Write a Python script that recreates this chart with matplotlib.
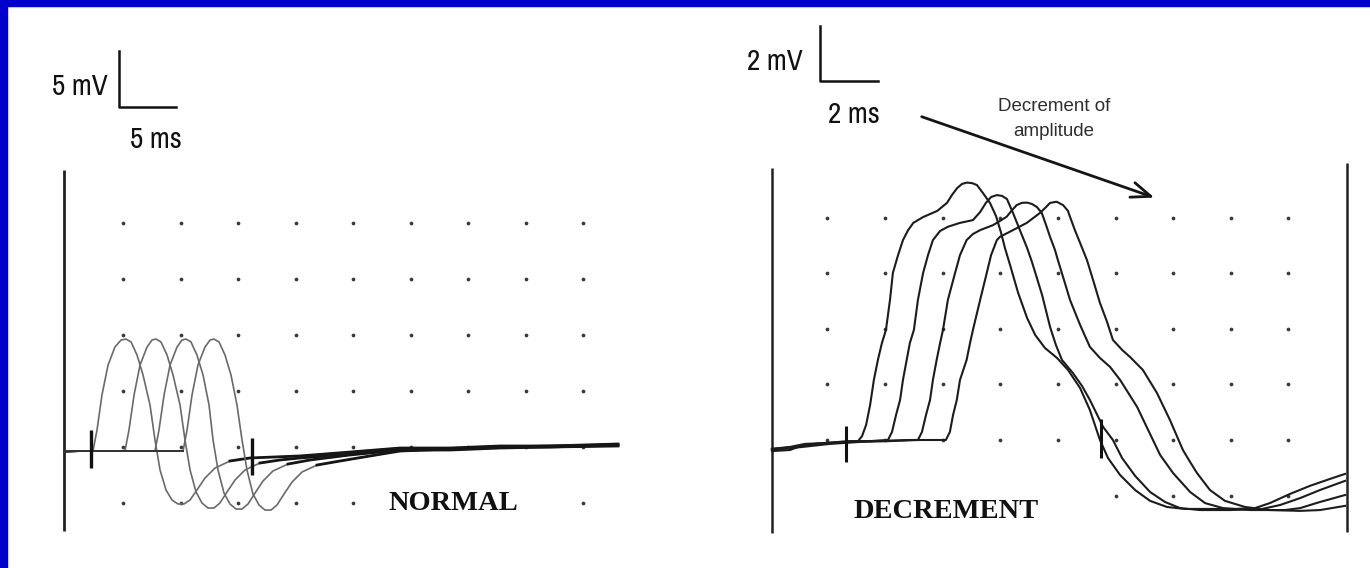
import matplotlib
matplotlib.use("Agg")
import matplotlib.pyplot as plt
from matplotlib.patches import Rectangle
from matplotlib import font_manager as fm

# ---------------- data: NORMAL panel (time in ms, amplitude in mV) ----------------
normal_t1 = [-0.13, 1.26, 2.39, 2.74, 3.17, 3.70, 4.30, 4.83, 5.26, 5.70, 6.22, 6.74, 7.35, 7.78, 8.22, 8.74,
             9.26, 9.78, 10.30, 10.83, 11.43, 12.13, 13.0, 14.30, 16.04, 20.39, 24.74, 29.09, 33.43, 37.78, 42.13, 48.04]
normal_v1 = [-0.45, -0.36, -0.36, 1.52, 4.64, 7.32, 8.93, 9.55, 9.64, 9.38, 8.21, 6.43, 3.75, 0.63, -2.05, -3.84,
             -4.73, -5.09, -5.09, -4.73, -3.84, -2.77, -1.88, -1.25, -0.98, -0.80, -0.45, -0.09, -0.09, 0.09, 0.09, 0.27]
normal_t2 = [-0.13, 3.00, 5.17, 5.52, 5.96, 6.48, 7.09, 7.52, 7.87, 8.30, 8.83, 9.35, 9.96, 10.39, 10.83, 11.35,
             11.87, 12.39, 12.91, 13.43, 14.04, 14.74, 15.61, 16.91, 18.65, 20.39, 24.74, 29.09, 33.43, 37.78, 42.13, 48.04]
normal_v2 = [-0.36, -0.36, -0.36, 1.52, 4.64, 7.32, 8.93, 9.55, 9.64, 9.38, 8.21, 6.43, 3.75, 0.63, -2.05, -4.02,
             -5.0, -5.45, -5.45, -5.0, -4.02, -2.95, -2.05, -1.43, -1.16, -0.98, -0.63, -0.18, -0.18, 0.0, 0.0, 0.09]
normal_t3 = [-0.13, 4.74, 7.78, 8.13, 8.57, 9.09, 9.70, 10.13, 10.48, 10.91, 11.43, 11.96, 12.48, 12.83, 13.26, 13.78,
             14.30, 14.83, 15.35, 15.87, 16.48, 17.17, 18.04, 19.35, 21.26, 24.74, 29.09, 33.43, 37.78, 42.13, 48.04]
normal_v3 = [-0.36, -0.36, -0.36, 1.52, 4.64, 7.32, 8.93, 9.55, 9.64, 9.38, 8.21, 6.43, 3.75, 0.63, -2.05, -4.11,
             -5.09, -5.54, -5.54, -5.09, -4.11, -3.04, -2.14, -1.52, -1.16, -0.71, -0.27, -0.27, -0.09, 0.0, 0.18]
normal_t4 = [-0.13, 7.35, 10.22, 10.57, 11.0, 11.52, 12.13, 12.57, 12.91, 13.35, 13.87, 14.39, 14.91, 15.35, 15.78, 16.30,
             16.83, 17.35, 17.87, 18.39, 19.0, 19.70, 20.57, 21.87, 23.87, 26.48, 29.09, 33.43, 37.78, 42.13, 48.04]
normal_v4 = [-0.36, -0.36, -0.36, 1.52, 4.64, 7.32, 8.93, 9.55, 9.64, 9.38, 8.21, 6.43, 3.75, 0.63, -2.05, -4.20,
             -5.18, -5.63, -5.63, -5.18, -4.20, -3.13, -2.23, -1.61, -1.25, -0.80, -0.36, -0.18, 0.0, 0.09, 0.18]
normal_tail_start = [14.30, 16.91, 19.35, 21.87]   # where each trace has settled back onto the baseline

normal_grid_t = [5, 10, 15, 20, 25, 30, 35, 40, 45]
normal_grid_v = [0, 5, 10, 15, 20]
normal_bottom_row_v = -5
normal_bottom_row_t = [5, 10, 15, 20, 25, 45]
normal_cursors_t = [2.2, 16.2]
normal_cursors_v = [(-1.9, 1.5), (-2.5, 0.8)]
normal_frame_t = -0.13
normal_frame_v = (-7.5, 24.7)
normal_scale_ms = 5
normal_scale_mV = 5

# ---------------- data: DECREMENT panel (time in ms, amplitude in mV) ----------------
decr_t1 = [0.07, 0.70, 1.05, 1.57, 2.26, 2.78, 3.06, 3.20, 3.34, 3.48, 3.61, 3.75, 3.89, 4.03, 4.17, 4.27, 4.45,
           4.62, 4.80, 4.98, 5.32, 5.81, 6.15, 6.32, 6.50, 6.67, 6.84, 7.02, 7.19, 7.40, 7.64, 7.85, 8.02, 8.16,
           8.34, 8.62, 8.93, 9.21, 9.55, 9.97, 10.35, 10.77, 11.11, 11.46, 11.74, 12.16, 12.68, 13.20, 13.79,
           14.41, 15.28, 16.15, 16.84, 17.36, 18.06, 18.75, 19.45, 19.97]
decr_v1 = [-0.40, -0.36, -0.22, -0.14, -0.11, -0.07, -0.04, 0.14, 0.54, 1.26, 2.16, 2.88, 3.49, 3.96, 5.04, 6.01,
           6.65, 7.19, 7.55, 7.81, 8.02, 8.24, 8.53, 8.81, 9.06, 9.21, 9.26, 9.24, 9.17, 8.88, 8.53, 8.06, 7.48,
           6.91, 6.29, 5.29, 4.39, 3.78, 3.31, 2.95, 2.52, 1.87, 1.08, 0.0, -0.65, -1.26, -1.80, -2.19, -2.41,
           -2.48, -2.48, -2.48, -2.45, -2.27, -1.94, -1.65, -1.40, -1.22]
decr_t2 = [0.07, 0.70, 1.22, 1.91, 2.78, 3.48, 4.10, 4.24, 4.38, 4.52, 4.62, 4.75, 4.86, 5.00, 5.14, 5.32, 5.49,
           5.66, 5.91, 6.18, 6.60, 7.05, 7.30, 7.50, 7.68, 7.88, 8.06, 8.23, 8.44, 8.68, 8.93, 9.10, 9.27, 9.45,
           9.73, 9.93, 10.14, 10.52, 10.84, 11.11, 11.57, 11.91, 12.23, 12.68, 13.20, 13.72, 14.24, 14.94, 15.98,
           17.09, 17.71, 18.41, 19.10, 19.97]
decr_v2 = [-0.32, -0.25, -0.14, -0.11, -0.04, -0.04, 0.0, 0.29, 0.90, 1.44, 2.16, 2.88, 3.49, 3.96, 5.04, 6.01,
           6.65, 7.19, 7.52, 7.67, 7.81, 7.91, 8.20, 8.53, 8.74, 8.81, 8.78, 8.67, 8.17, 7.55, 6.91, 6.40, 5.83,
           5.22, 4.06, 3.42, 2.88, 2.41, 1.94, 1.44, 0.47, 0.0, -0.65, -1.29, -1.87, -2.23, -2.45, -2.52, -2.52,
           -2.48, -2.34, -2.09, -1.80, -1.47]
decr_t3 = [0.07, 0.77, 1.39, 2.09, 3.13, 4.17, 5.14, 5.28, 5.42, 5.56, 5.66, 5.79, 5.91, 6.01, 6.18, 6.43, 6.60,
           6.83, 7.05, 7.30, 7.75, 7.99, 8.22, 8.41, 8.57, 8.75, 8.93, 9.10, 9.27, 9.44, 9.59, 9.73, 9.90, 10.00,
           10.21, 10.42, 10.77, 11.11, 11.46, 11.81, 12.16, 12.75, 13.30, 13.55, 14.00, 14.59, 15.11, 15.73,
           16.67, 17.88, 18.41, 19.10, 19.97]
decr_v3 = [-0.36, -0.29, -0.22, -0.14, -0.07, -0.04, 0.0, 0.29, 0.90, 1.44, 2.16, 2.88, 3.49, 3.96, 5.04, 6.01,
           6.65, 7.19, 7.41, 7.55, 7.73, 7.88, 8.03, 8.27, 8.45, 8.53, 8.54, 8.49, 8.38, 8.17, 7.73, 7.30, 6.83,
           6.47, 5.76, 5.04, 4.14, 3.35, 2.95, 2.63, 2.16, 1.19, 0.0, -0.54, -1.19, -1.87, -2.27, -2.45, -2.52,
           -2.52, -2.45, -2.23, -1.98]
decr_t4 = [0.07, 0.87, 1.57, 2.43, 3.48, 4.86, 6.11, 6.25, 6.36, 6.49, 6.60, 6.83, 6.95, 7.05, 7.30, 7.53, 7.68,
           7.88, 7.99, 8.44, 8.92, 9.38, 9.59, 9.73, 9.96, 10.18, 10.35, 10.42, 10.59, 10.77, 11.01, 11.22, 11.46,
           11.71, 11.91, 12.23, 12.50, 12.95, 13.44, 13.89, 14.34, 14.59, 14.83, 15.28, 15.80, 16.50, 17.36,
           18.41, 19.10, 19.97]
decr_v4 = [-0.32, -0.25, -0.14, -0.07, -0.04, 0.0, 0.0, 0.29, 0.90, 1.44, 2.16, 2.88, 3.49, 3.96, 5.04, 6.01,
           6.65, 7.19, 7.31, 7.55, 7.81, 8.17, 8.38, 8.53, 8.57, 8.45, 8.24, 8.03, 7.55, 7.09, 6.47, 5.76, 4.93,
           4.24, 3.60, 3.24, 2.99, 2.52, 1.69, 0.72, -0.36, -0.79, -1.19, -1.80, -2.19, -2.41, -2.52, -2.55,
           -2.52, -2.37]

decr_grid_t = [2, 4, 6, 8, 10, 12, 14, 16, 18]
decr_grid_v = [0, 2, 4, 6, 8]
decr_bottom_row_v = -2
decr_bottom_row_t = [12, 14, 16, 18]
decr_cursors_t = [2.64, 11.5]
decr_cursors_v = [(-0.79, 0.51), (-0.65, 0.76)]
decr_frame_t = [0.09, 20.05]
decr_frame_v = [(-3.33, 9.77), (-3.3, 9.96)]
decr_scale_ms = 2
decr_scale_mV = 2
arrow_from = (5.27, 11.63)
arrow_to = (13.35, 8.72)

# ---------------- fonts ----------------
def pick_narrow_font():
    best = None
    for f in fm.fontManager.ttflist:
        name = f.name.lower()
        fn = f.fname.lower()
        if "bold" in fn or "oblique" in fn or "italic" in fn or f.weight not in (400, "normal", "regular"):
            continue
        if f.style != "normal":
            continue
        score = None
        if "narrow" in name or "narrow" in fn:
            score = 0
        elif "condensed" in name or "condensed" in fn or f.stretch in ("condensed", "semi-condensed",
                                                                        "extra-condensed", "ultra-condensed"):
            score = 1 if "sans" in name or "sans" in fn else 2
        if score is not None and (best is None or score < best[0]):
            best = (score, f.fname)
    return best

_nb = pick_narrow_font()
if _nb is not None:
    scale_font = fm.FontProperties(fname=_nb[1], size=21 if _nb[0] == 0 else 19)
else:
    scale_font = fm.FontProperties(family="DejaVu Sans", size=16)

# ---------------- figure ----------------
W, H = 1370, 568
fig = plt.figure(figsize=(W / 100, H / 100), dpi=100)
fig.patch.set_facecolor("white")
fig.add_artist(Rectangle((0, 1 - 6 / H), 1, 6 / H, transform=fig.transFigure, color="#0000CC", zorder=10))
fig.add_artist(Rectangle((0, 0), 7 / W, 1, transform=fig.transFigure, color="#0000CC", zorder=10))

serif_bold = ["Liberation Serif", "DejaVu Serif"]

# ---- left panel ----
axL = fig.add_axes([20 / W, 8 / H, 670 / W, 545 / H])
axL.set_xlim(-3.957, 54.304)
axL.set_ylim(-10.089, 38.571)
axL.axis("off")

dot_kw = dict(ls="none", marker="o", ms=2.7, color="#3a3a3a", mec="none")
for v in normal_grid_v:
    axL.plot(normal_grid_t, [v] * len(normal_grid_t), **dot_kw)
axL.plot(normal_bottom_row_t, [normal_bottom_row_v] * len(normal_bottom_row_t), **dot_kw)

axL.plot([normal_frame_t] * 2, normal_frame_v, color="#222", lw=2.0, solid_capstyle="butt")

normal_traces = [(normal_t1, normal_v1), (normal_t2, normal_v2), (normal_t3, normal_v3), (normal_t4, normal_v4)]
for (tt, vv), ts in zip(normal_traces, normal_tail_start):
    axL.plot(tt, vv, color="#6a6a6a", lw=1.2)
    tail = [(a, b) for a, b in zip(tt, vv) if a >= ts]
    axL.plot([p[0] for p in tail], [p[1] for p in tail], color="#151515", lw=2.0)
    pre = [(a, b) for a, b in zip(tt, vv) if a <= tt[2]]
    axL.plot([p[0] for p in pre], [p[1] for p in pre], color="#333", lw=1.4)

for ct, (v0, v1) in zip(normal_cursors_t, normal_cursors_v):
    axL.plot([ct, ct], [v0, v1], color="#111", lw=2.4, solid_capstyle="butt")

sb_t, sb_v = 4.65, 30.4
axL.plot([sb_t, sb_t, sb_t + normal_scale_ms], [sb_v + normal_scale_mV, sb_v, sb_v],
         color="#111", lw=1.8, clip_on=False)
axL.text(3.70, 31.43, "%d mV" % normal_scale_mV, fontproperties=scale_font, ha="right", va="baseline", color="#111")
axL.text(5.61, 26.67, "%d ms" % normal_scale_ms, fontproperties=scale_font, ha="left", va="baseline", color="#111")
axL.text(33.70, -5.63, "NORMAL", family=serif_bold, fontweight="bold", fontsize=20.5, ha="center", va="baseline",
         color="#111", bbox=dict(facecolor="white", edgecolor="none", pad=1.0))

# ---- right panel ----
axR = fig.add_axes([700 / W, 8 / H, 665 / W, 545 / H])
axR.set_xlim(-2.427, 20.663)
axR.set_ylim(-4.317, 15.288)
axR.axis("off")

for v in decr_grid_v:
    axR.plot(decr_grid_t, [v] * len(decr_grid_t), **dot_kw)
axR.plot(decr_bottom_row_t, [decr_bottom_row_v] * len(decr_bottom_row_t), **dot_kw)

for ft, (v0, v1) in zip(decr_frame_t, decr_frame_v):
    axR.plot([ft, ft], [v0, v1], color="#222", lw=1.8, solid_capstyle="butt")

for tt, vv in [(decr_t1, decr_v1), (decr_t2, decr_v2), (decr_t3, decr_v3), (decr_t4, decr_v4)]:
    axR.plot(tt, vv, color="#1c1c1c", lw=1.5)

for ct, (v0, v1) in zip(decr_cursors_t, decr_cursors_v):
    axR.plot([ct, ct], [v0, v1], color="#111", lw=2.2, solid_capstyle="butt")

sb_t, sb_v = 1.74, 12.9
axR.plot([sb_t, sb_t, sb_t + decr_scale_ms], [sb_v + decr_scale_mV, sb_v, sb_v],
         color="#111", lw=1.8, clip_on=False)
axR.text(1.14, 13.31, "%d mV" % decr_scale_mV, fontproperties=scale_font, ha="right", va="baseline", color="#111")
axR.text(2.02, 11.39, "%d ms" % decr_scale_ms, fontproperties=scale_font, ha="left", va="baseline", color="#111")
axR.text(6.12, -2.81, "DECREMENT", family=serif_bold, fontweight="bold", fontsize=20.5, ha="center",
         va="baseline", color="#111")
axR.text(9.86, 11.56, "Decrement of\namplitude", family=["Liberation Sans", "DejaVu Sans"], fontsize=13.5,
         ha="center", va="center", color="#2e2e2e", linespacing=1.6)
axR.annotate("", xy=arrow_to, xytext=arrow_from,
             arrowprops=dict(arrowstyle="->,head_length=1.4,head_width=0.55", color="#151515", lw=2.0,
                             shrinkA=0, shrinkB=0))

fig.savefig("out.png", dpi=100)
